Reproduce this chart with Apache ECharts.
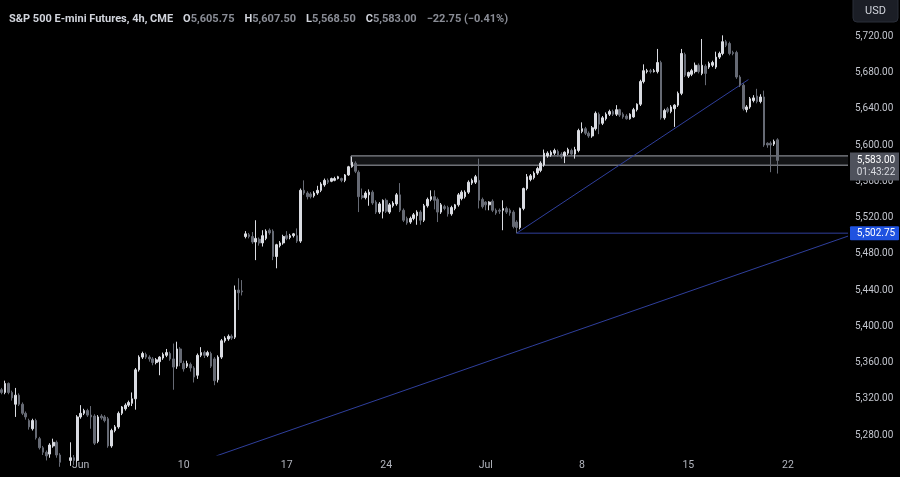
<!DOCTYPE html>
<html><head><meta charset="utf-8">
<script src="https://cdn.jsdelivr.net/npm/echarts@6/dist/echarts.min.js"></script>
<style>html,body{margin:0;padding:0;background:#000;}#c{width:900px;height:477px;}</style>
</head><body><div id="c"></div>
<script>
// 4h candles, [open, close, low, high]
const candles = [
[5330,5327,5325,5332],[5327,5337,5325,5340],[5337,5327,5325,5338],[5327,5321,5318,5329],[5314,5324,5300,5332],
[5324,5314,5312,5326],[5314,5304,5302,5316],[5304,5300,5297,5306],[5296,5289,5286,5298],[5287,5296,5285,5298],
[5296,5277,5275,5298],[5276,5266,5264,5278],[5266,5261,5258,5268],[5261,5257,5252,5263],[5259,5269,5255,5271],
[5268,5272,5266,5276],[5272,5258,5255,5274],[5258,5250,5245,5260],[5250,5248,5243,5254],[5248,5252,5244,5256],
[5252,5255,5246,5272],[5255,5252,5247,5258],[5252,5300,5250,5302],[5300,5304,5298,5313],[5304,5307,5302,5309],
[5307,5302,5300,5309],[5302,5300,5287,5312],[5301,5271,5269,5303],[5273,5300,5271,5302],[5301,5299,5297,5303],
[5300,5296,5294,5302],[5298,5268,5266,5300],[5268,5285,5266,5287],[5285,5289,5283,5291],[5289,5304,5287,5306],
[5304,5311,5302,5312],[5309,5313,5307,5315],[5313,5316,5311,5318],[5315,5320,5312,5327],[5320,5352,5308,5354],
[5352,5366,5350,5368],[5366,5370,5364,5372],[5369,5366,5364,5371],[5366,5364,5361,5368],[5364,5360,5357,5366],
[5360,5363,5358,5365],[5361,5366,5346,5367],[5365,5369,5363,5371],[5368,5371,5366,5375],[5370,5364,5362,5372],
[5364,5355,5330,5381],[5356,5375,5353,5383],[5375,5360,5356,5377],[5359,5353,5350,5362],[5356,5359,5354,5362],
[5358,5354,5350,5360],[5354,5344,5338,5356],[5346,5368,5342,5370],[5368,5371,5366,5377],[5371,5368,5365,5373],
[5368,5371,5366,5373],[5370,5356,5354,5372],[5364,5340,5335,5366],[5341,5366,5338,5368],[5366,5384,5364,5386],
[5384,5387,5382,5389],[5386,5389,5384,5391],[5389,5387,5385,5391],[5388,5440,5386,5445],[5440,5437,5418,5453],
[5439,5438,5434,5451],[5499,5502,5497,5505],[5501,5499,5497,5503],[5499,5493,5491,5504],[5493,5497,5473,5517],
[5496,5492,5489,5498],[5492,5500,5488,5506],[5497,5505,5495,5507],[5506,5503,5501,5508],[5505,5477,5473,5507],
[5477,5490,5464,5491],[5489,5492,5487,5494],[5492,5499,5490,5501],[5500,5497,5495,5505],[5498,5500,5496,5502],
[5500,5502,5498,5503],[5500,5494,5492,5508],[5494,5550,5492,5552],[5550,5547,5545,5561],[5547,5543,5540,5549],
[5546,5543,5541,5548],[5544,5547,5542,5549],[5547,5550,5545,5555],[5550,5557,5548,5559],[5556,5561,5554,5563],
[5561,5559,5557,5563],[5560,5563,5559,5564],[5561,5563,5560,5565],[5563,5565,5562,5566],[5563,5561,5559,5564],
[5561,5567,5559,5568],[5567,5576,5566,5577],[5576,5581,5575,5587],[5580,5571,5569,5582],[5570,5543,5526,5572],
[5544,5542,5540,5552],[5542,5547,5540,5549],[5545,5548,5533,5551],[5548,5536,5534,5550],[5537,5526,5524,5539],
[5526,5535,5524,5537],[5527,5539,5519,5540],[5539,5527,5525,5541],[5526,5534,5524,5536],[5533,5536,5531,5538],
[5535,5545,5533,5547],[5545,5528,5526,5558],[5528,5517,5515,5530],[5519,5514,5512,5521],[5515,5519,5513,5521],
[5519,5523,5517,5525],[5522,5526,5512,5528],[5526,5517,5512,5528],[5517,5533,5515,5535],[5533,5540,5531,5542],
[5540,5543,5538,5550],[5543,5539,5529,5550],[5540,5526,5515,5542],[5526,5534,5524,5536],[5532,5530,5528,5534],
[5531,5524,5521,5533],[5524,5531,5522,5533],[5530,5534,5528,5535],[5534,5545,5532,5547],[5541,5548,5539,5550],
[5543,5548,5541,5550],[5548,5559,5546,5561],[5558,5561,5556,5563],[5559,5565,5557,5567],[5561,5539,5530,5585],
[5540,5532,5530,5542],[5537,5534,5528,5538],[5534,5537,5528,5538],[5538,5528,5526,5540],[5528,5525,5523,5530],
[5528,5527,5524,5530],[5528,5530,5506,5539],[5530,5526,5524,5532],[5528,5525,5522,5530],[5526,5510,5508,5528],
[5515,5509,5502.75,5517],[5509,5530,5507,5531],[5530,5552,5528,5553],[5552,5565,5550,5568],[5562,5566,5560,5568],
[5564,5569,5562,5571],[5569,5574,5567,5576],[5572,5580,5570,5582],[5578,5591,5576,5595],[5588,5591,5586,5593],
[5589,5592,5587,5594],[5591,5594,5589,5596],[5593,5589,5587,5595],[5590,5587,5585,5592],[5588,5592,5580,5593],
[5591,5595,5589,5597],[5594,5590,5588,5596],[5590,5595,5585,5598],[5594,5616,5592,5618],[5615,5618,5613,5625],
[5618,5613,5611,5620],[5613,5610,5608,5615],[5610,5619,5608,5621],[5618,5635,5616,5637],[5634,5623,5612,5636],
[5624,5630,5622,5632],[5629,5634,5627,5636],[5634,5637,5632,5639],[5637,5634,5632,5639],[5634,5639,5632,5644],
[5639,5633,5631,5640],[5634,5631,5629,5636],[5632,5629,5628,5634],[5629,5634,5628,5635],[5631,5639,5630,5641],
[5639,5645,5637,5646],[5645,5670,5643,5672],[5670,5682,5668,5689],[5681,5682,5679,5684],[5682,5681,5679,5684],
[5681,5682,5680,5684],[5681,5691,5679,5706],[5691,5630,5628,5693],[5630,5638,5628,5640],[5640,5637,5635,5642],
[5637,5642,5635,5644],[5640,5644,5620,5645],[5644,5657,5642,5659],[5657,5701,5655,5706],[5700,5677,5675,5702],
[5676,5680,5674,5681],[5678,5682,5676,5684],[5681,5688,5679,5691],[5688,5681,5679,5690],[5679,5688,5677,5717],
[5687,5679,5666,5689],[5686,5690,5684,5692],[5688,5691,5686,5693],[5686,5697,5684,5703],[5697,5701,5695,5703],
[5701,5714,5699,5721],[5714,5710,5708,5716],[5712,5701,5699,5714],[5702,5701,5699,5704],[5702,5675,5673,5704],
[5675,5666,5664,5677],[5666,5640,5638,5668],[5639,5642,5636,5644],[5642,5651,5640,5653],[5649,5652,5647,5655],
[5654,5648,5646,5662],[5648,5653,5646,5656],[5653,5600,5598,5660],[5602,5600,5597,5603],[5602,5600,5570,5604],
[5601,5604,5599,5606],[5605.75,5583,5568.5,5607.5]
];
const slotCount = 247; // bar slots including empty space on the right
const weekLabels = {23:'Jun',53:'10',83:'17',112:'24',141:'Jul',169:'8',200:'15',229:'22'};
const priceTicks = [5280,5320,5360,5400,5440,5480,5520,5560,5600,5640,5680,5720];
const zone = {fromIdx:101.75, top:5588, bottom:5577.75};
const supportLevel = 5502.75;
const supportLine = [[150,5502.75],[246.5,5502.75]];
const risingTrend = [[150,5502.75],[217.5,5672.2]];
const longTrend = [[62.5,5257],[246.5,5499.5]];
const lastPrice = 5583.00;
const countdown = '01:43:22';

const fmt = v => v.toLocaleString('en-US',{minimumFractionDigits:2,maximumFractionDigits:2});
const categories = Array.from({length:slotCount},(_,i)=>String(i));
const blue = '#2f3f9c';
const edge = slotCount - 0.5;
const zoneOutline = [[edge,zone.top],[zone.fromIdx,zone.top],[zone.fromIdx,zone.bottom],[edge,zone.bottom]];
const lineSeries = (d, color, extra) => Object.assign({type:'line', xAxisIndex:1, yAxisIndex:0, data:d, symbol:'none',
  lineStyle:{color:color,width:1}, silent:true, animation:false, z:3}, extra||{});

const chart = echarts.init(document.getElementById('c'));
chart.setOption({
  backgroundColor:'#000000',
  animation:false,
  title:{
    left:4, top:5,
    text:'{n|S&P 500 E-mini Futures, 4h, CME}  {k|O}{v|5,605.75}  {k|H}{v|5,607.50}  {k|L}{v|5,568.50}  {k|C}{v|5,583.00}  {v|−22.75 (−0.41%)}',
    textStyle:{rich:{
      n:{color:'#d1d4dc',fontSize:11,fontFamily:'Roboto'},
      k:{color:'#d1d4dc',fontSize:11,fontFamily:'Roboto'},
      v:{color:'#8a8d96',fontSize:11,fontFamily:'Roboto'}
    }}
  },
  grid:{left:0,right:52,top:0,bottom:22,containLabel:false},
  xAxis:[{
    type:'category', data:categories, boundaryGap:true,
    axisLine:{show:false}, axisTick:{show:false}, splitLine:{show:false},
    axisLabel:{interval:(i)=>weekLabels[i]!==undefined, formatter:(v,i)=>weekLabels[i]||'',
      color:'#b2b5be', fontSize:10.5, fontFamily:'Roboto', margin:5}
  },{
    type:'value', min:-0.5, max:edge, show:false
  }],
  yAxis:{
    type:'value', position:'right', min:5258, max:5760, scale:true,
    axisLine:{show:false}, axisTick:{show:false}, splitLine:{show:false},
    axisLabel:{customValues:priceTicks, formatter:v=>fmt(v), color:'#c3c6ce', fontSize:10, fontFamily:'Roboto', margin:7}
  },
  series:[
    lineSeries(zoneOutline,'#a3a6af',{
      markArea:{silent:true, itemStyle:{color:'rgba(120,123,134,0.16)', borderWidth:0},
        data:[[{coord:[zone.fromIdx, zone.top]},{coord:[edge, zone.bottom]}]]}
    }),
    lineSeries(supportLine,blue),
    lineSeries(risingTrend,blue),
    lineSeries(longTrend,blue),
    {
      type:'candlestick', xAxisIndex:0, yAxisIndex:0, data:candles, barWidth:2.1, clip:true, z:5,
      itemStyle:{color:'#dadce2', color0:'#666a74', borderColor:'#dadce2', borderColor0:'#666a74', borderWidth:1}
    }
  ]
});

const yLast = chart.convertToPixel({yAxisIndex:0}, lastPrice);
const ySup = chart.convertToPixel({yAxisIndex:0}, supportLevel);
chart.setOption({graphic:[
  {type:'rect', z:100, shape:{x:853,y:-4,width:45,height:26,r:4}, style:{fill:'#1b1e26',stroke:'#2a2e39',lineWidth:1}},
  {type:'text', z:101, x:875.5, y:11, style:{text:'USD',fill:'#d1d4dc',font:'11px Roboto',align:'center',verticalAlign:'middle'}},
  {type:'rect', z:100, shape:{x:850,y:yLast-8,width:49,height:28}, style:{fill:'#4f525c'}},
  {type:'text', z:101, x:876, y:yLast, style:{text:fmt(lastPrice),fill:'#ffffff',font:'10px Roboto',align:'center',verticalAlign:'middle'}},
  {type:'text', z:101, x:876, y:yLast+12, style:{text:countdown,fill:'#d8dae0',font:'10px Roboto',align:'center',verticalAlign:'middle'}},
  {type:'rect', z:100, shape:{x:850,y:ySup-7,width:49,height:14,r:1}, style:{fill:'#1f52e0'}},
  {type:'text', z:101, x:876, y:ySup, style:{text:fmt(supportLevel),fill:'#ffffff',font:'10px Roboto',align:'center',verticalAlign:'middle'}}
]});
</script>
</body></html>
